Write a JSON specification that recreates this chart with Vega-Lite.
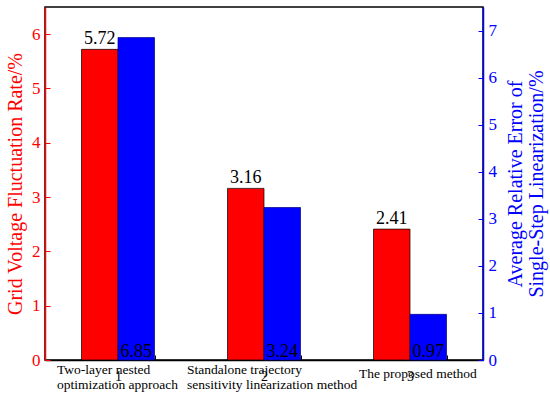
{
  "$schema": "https://vega.github.io/schema/vega-lite/v6.json",
  "width": 438,
  "height": 353,
  "autosize": "none",
  "padding": {"left": 45, "top": 7, "right": 67, "bottom": 40},
  "config": {
    "font": "Liberation Serif",
    "text": {"font": "Liberation Serif"},
    "view": {"stroke": "black", "strokeWidth": 1.5},
    "axis": {"grid": false, "titleFontWeight": "normal", "labelFont": "Liberation Serif", "titleFont": "Liberation Serif"}
  },
  "datasets": {
    "rate": [
      {"method": "Two-layer nested\noptimization approach", "series": "Grid voltage fluctuation rate", "value": 5.72},
      {"method": "Standalone trajectory\nsensitivity linearization method", "series": "Grid voltage fluctuation rate", "value": 3.16},
      {"method": "The proposed method", "series": "Grid voltage fluctuation rate", "value": 2.41}
    ],
    "error": [
      {"method": "Two-layer nested\noptimization approach", "series": "Average relative error", "value": 6.85},
      {"method": "Standalone trajectory\nsensitivity linearization method", "series": "Average relative error", "value": 3.24},
      {"method": "The proposed method", "series": "Average relative error", "value": 0.97}
    ]
  },
  "layer": [
    {
      "data": {"name": "rate"},
      "layer": [
        {
          "mark": {"type": "bar", "color": "#FF0000", "stroke": "#000000", "strokeWidth": 0.7},
          "encoding": {
            "x": {
              "field": "method", "type": "nominal", "sort": null,
              "scale": {"paddingInner": 0.5, "paddingOuter": 0.25},
              "axis": {
                "orient": "bottom", "title": null, "labelAngle": 0,
                "labelExpr": "indexof(domain('x'), datum.value) >= 0 ? '' + (indexof(domain('x'), datum.value) + 1) : ''",
                "labelFontSize": 14, "labelColor": "#000000", "labelPadding": 14,
                "tickBand": "extent", "tickSize": -5, "tickColor": "#000000",
                "domainColor": "#000000", "domainWidth": 1.5
              }
            },
            "xOffset": {"field": "series", "type": "nominal", "scale": {"domain": ["Grid voltage fluctuation rate", "Average relative error"], "paddingInner": 0, "paddingOuter": 0}},
            "y": {
              "field": "value", "type": "quantitative",
              "scale": {"domain": [0, 6.5], "nice": false, "zero": true},
              "axis": {
                "orient": "left",
                "title": "Grid Voltage Fluctuation Rate/%",
                "titleColor": "#FF0000", "titleFontSize": 20, "titlePadding": 6,
                "values": [0, 0.5, 1, 1.5, 2, 2.5, 3, 3.5, 4, 4.5, 5, 5.5, 6, 6.5],
                "labelExpr": "datum.value % 1 == 0 ? datum.label : ''",
                "labelColor": "#FF0000", "labelFontSize": 17, "labelPadding": 10,
                "tickColor": "#FF0000", "tickSize": {"condition": {"test": "datum.value % 1 == 0", "value": -5}, "value": -3},
                "domainColor": "#FF0000", "domainWidth": 1.5
              }
            }
          }
        },
        {
          "mark": {"type": "text", "baseline": "bottom", "dy": -1, "fontSize": 18, "color": "#000000"},
          "encoding": {
            "x": {"field": "method", "type": "nominal", "sort": null},
            "xOffset": {"field": "series", "type": "nominal"},
            "y": {"field": "value", "type": "quantitative"},
            "text": {"field": "value", "type": "quantitative", "format": ".2f"}
          }
        }
      ]
    },
    {
      "data": {"name": "error"},
      "layer": [
        {
          "mark": {"type": "bar", "color": "#0000FF", "stroke": "#000080", "strokeWidth": 0.7},
          "encoding": {
            "x": {
              "field": "method", "type": "nominal", "sort": null,
              "axis": {
                "orient": "bottom", "title": null, "labelAngle": 0,
                "labelExpr": "split(datum.label, '\\n')",
                "labelAlign": "left",
                "labelOffset": {"condition": [
                  {"test": "indexof(domain('x'), datum.value) == 0", "value": -61},
                  {"test": "indexof(domain('x'), datum.value) == 1", "value": -77}
                ], "value": -51},
                "labelPadding": {"condition": {"test": "indexof(domain('x'), datum.value) == 2", "value": 6}, "value": 2},
                "labelFontSize": 13.5, "labelColor": "#000000", "labelLineHeight": 15, "labelLimit": 300,
                "ticks": false, "domain": false
              }
            },
            "xOffset": {"field": "series", "type": "nominal"},
            "y": {
              "field": "value", "type": "quantitative",
              "scale": {"domain": [0, 7.5], "nice": false, "zero": true},
              "axis": {
                "orient": "right",
                "title": ["Average Relative Error of", "Single-Step Linearization/%"],
                "titleColor": "#0000FF", "titleFontSize": 20, "titleAngle": -90, "titleLineHeight": 21, "titlePadding": 8,
                "values": [0, 0.5, 1, 1.5, 2, 2.5, 3, 3.5, 4, 4.5, 5, 5.5, 6, 6.5, 7, 7.5],
                "labelExpr": "datum.value % 1 == 0 ? datum.label : ''",
                "labelColor": "#0000FF", "labelFontSize": 17, "labelPadding": 10,
                "tickColor": "#0000FF", "tickSize": {"condition": {"test": "datum.value % 1 == 0", "value": -5}, "value": -3},
                "domainColor": "#0000FF", "domainWidth": 1.5
              }
            }
          }
        },
        {
          "mark": {"type": "text", "baseline": "bottom", "dy": 1, "fontSize": 18, "color": "#000000"},
          "encoding": {
            "x": {"field": "method", "type": "nominal", "sort": null},
            "xOffset": {"field": "series", "type": "nominal"},
            "y": {"datum": 0, "type": "quantitative"},
            "text": {"field": "value", "type": "quantitative", "format": ".2f"}
          }
        }
      ]
    }
  ],
  "resolve": {"scale": {"y": "independent"}, "axis": {"x": "independent", "y": "independent"}}
}
